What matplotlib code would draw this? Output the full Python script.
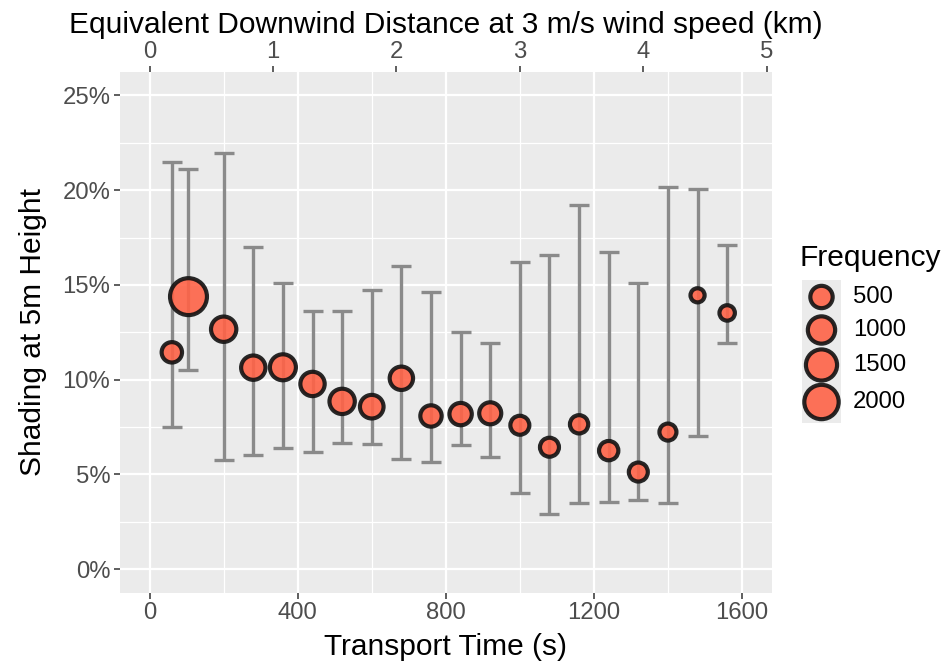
import numpy as np
import matplotlib
matplotlib.use("Agg")
import matplotlib.pyplot as plt
from matplotlib.ticker import FuncFormatter

plt.rcParams['font.family'] = ['Liberation Sans', 'DejaVu Sans']

# binned transport time (s), mean shading (%) and spread
transport_time = [60, 105, 200, 280, 360, 440, 520, 600, 680, 760,
                  840, 920, 1000, 1080, 1160, 1240, 1320, 1400, 1480, 1560]
shading = [11.44, 14.38, 12.66, 10.63, 10.65, 9.77, 8.85, 8.57, 10.07, 8.08,
           8.18, 8.22, 7.59, 6.43, 7.64, 6.25, 5.12, 7.23, 14.45, 13.52]
shading_hi = [21.49, 21.10, 21.95, 17.02, 15.10, 13.62, 13.62, 14.71, 16.00, 14.64,
              12.53, 11.95, 16.23, 16.58, 19.22, 16.72, 15.12, 20.15, 20.05, 17.10]
shading_lo = [7.48, 10.49, 5.76, 6.04, 6.39, 6.18, 6.64, 6.58, 5.81, 5.67,
              6.56, 5.93, 4.00, 2.90, 3.50, 3.52, 3.64, 3.50, 7.02, 11.95]
frequency = [350, 2450, 780, 680, 850, 680, 780, 610, 590, 420,
             500, 475, 260, 260, 220, 280, 260, 155, 50, 90]

legend_breaks = [500, 1000, 1500, 2000]

x_ticks = [0, 400, 800, 1200, 1600]
x_minor = [200, 600, 1000, 1400]
y_ticks = [0, 5, 10, 15, 20, 25]
y_minor = [2.5, 7.5, 12.5, 17.5, 22.5]
km_ticks = [0, 1, 2, 3, 4, 5]
wind_speed = 3.0  # m/s

W, H = 948, 662
DPI = 100
EDGE_LW = 3.0  # pt
PX_PER_PT = DPI / 72.0


def freq_to_area(f):
    # outer diameter in px grows with sqrt(frequency); scatter wants inner area in pt^2
    d_px = 14.5 + 0.537 * np.sqrt(np.asarray(f, dtype=float))
    d_pt = d_px / PX_PER_PT - EDGE_LW
    return d_pt ** 2


fill = '#FF6347'
edge = '#111111'
bar_col = '#8A8A8A'
tick_col = '#4D4D4D'
TICK_FS = 17.2
TITLE_FS = 21.5

fig = plt.figure(figsize=(W / DPI, H / DPI), dpi=DPI)
left, right, top, bottom = 120, 771.6, 71.8, 592.7
ax = fig.add_axes([left / W, 1 - bottom / H, (right - left) / W, (bottom - top) / H])
ax.set_facecolor('#EBEBEB')
for sp in ax.spines.values():
    sp.set_visible(False)

ax.set_xlim(-80, 1680)
ax.set_ylim(-1.25, 26.25)
ax.set_xticks(x_ticks)
ax.set_xticks(x_minor, minor=True)
ax.set_yticks(y_ticks)
ax.set_yticks(y_minor, minor=True)
ax.yaxis.set_major_formatter(FuncFormatter(lambda v, p: f"{v:.0f}%"))
ax.grid(which='major', color='white', linewidth=1.6)
ax.grid(which='minor', color='white', linewidth=0.9)
ax.set_axisbelow(True)
ax.tick_params(which='major', length=4, width=1.1, color='#333333',
               labelsize=TICK_FS, labelcolor=tick_col, pad=3)
ax.tick_params(which='minor', length=0)

shade = np.array(shading)
yerr = [shade - np.array(shading_lo), np.array(shading_hi) - shade]
ax.errorbar(transport_time, shade, yerr=yerr, fmt='none', ecolor=bar_col,
            elinewidth=2.4, capsize=6.85, capthick=2.4, zorder=2)
ax.scatter(transport_time, shade, s=freq_to_area(frequency), c=fill,
           edgecolors=edge, linewidths=EDGE_LW, alpha=0.9, zorder=3)

ax.set_xlabel('Transport Time (s)', fontsize=TITLE_FS, labelpad=6)
ax.set_ylabel('Shading at 5m Height', fontsize=TITLE_FS, labelpad=11)

# distance axis on top: km travelled at the given wind speed
secax = ax.secondary_xaxis('top', functions=(lambda s: s * wind_speed / 1000.0,
                                             lambda k: k * 1000.0 / wind_speed))
secax.set_xticks(km_ticks)
secax.tick_params(length=4, width=1.1, color='#333333',
                  labelsize=TICK_FS, labelcolor=tick_col, pad=2)
for sp in secax.spines.values():
    sp.set_visible(False)
secax.set_xlabel('Equivalent Downwind Distance at 3 m/s wind speed (km)',
                 fontsize=TITLE_FS, labelpad=6)

# size legend
key_top, key_bot = 280, 423
lax = fig.add_axes([802 / W, 1 - key_bot / H, 39 / W, (key_bot - key_top) / H])
lax.set_facecolor('#EBEBEB')
lax.set_xlim(0, 39)
lax.set_ylim(key_bot - key_top, 0)
lax.set_xticks([])
lax.set_yticks([])
for sp in lax.spines.values():
    sp.set_visible(False)
key_y = [17, 50, 85, 122]
lax.scatter([19.5] * len(legend_breaks), key_y, s=freq_to_area(legend_breaks),
            c=fill, edgecolors=edge, linewidths=EDGE_LW, alpha=0.9, clip_on=False)
for b, ky in zip(legend_breaks, key_y):
    fig.text(853 / W, 1 - (key_top + ky) / H, str(b), fontsize=TICK_FS,
             va='center', ha='left')
fig.text(800 / W, 1 - 258 / H, 'Frequency', fontsize=TITLE_FS, va='center', ha='left')

fig.savefig('out.png', dpi=DPI)
